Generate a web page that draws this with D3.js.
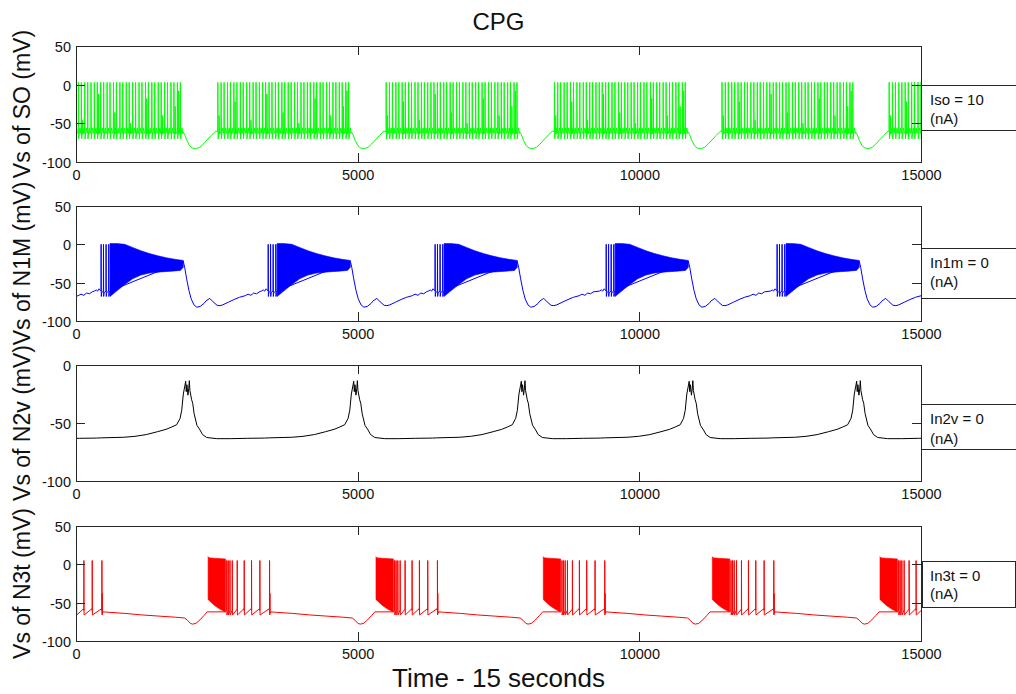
<!DOCTYPE html>
<html><head><meta charset="utf-8">
<script src="https://cdn.jsdelivr.net/npm/d3@7"></script>
<style>
html,body{margin:0;padding:0;background:#fff;overflow:hidden;}
svg{display:block;font-family:"Liberation Sans",Arial,sans-serif;}
</style></head><body>
<svg id="chart" width="1016" height="694"></svg>
<script>
// ---------------- DATA ----------------
const chartTitle = "CPG";
const xAxisLabel = "Time - 15 seconds";
const timeDomain = [0, 15000];
const timeTicks = [0, 5000, 10000, 15000];
const yLabels = ["Vs of SO (mV)", "Vs of N1M (mV)", "Vs of N2v (mV)", "Vs of N3t (mV)"];
const yDomains = [[-100, 50], [-100, 50], [-100, 0], [-100, 50]];
const yTicks = [[-100, -50, 0, 50], [-100, -50, 0, 50], [-100, -50, 0], [-100, -50, 0, 50]];
const legendLines = [["Iso = 10", "(nA)"], ["In1m = 0", "(nA)"], ["In2v = 0", "(nA)"], ["In3t = 0", "(nA)"]];
const traceColors = ["#00ff00", "#0000ff", "#000000", "#ff0000"];

// SO (green): burst onsets (ms), spike offsets inside a burst (ms), spike waveform [ms, mV]
const soBurstOnsets = [-473, 2515, 5503, 8490, 11465, 14432];
const soSpikeOffsets = [0, 58, 111, 172, 225, 284, 339, 399, 450, 512, 565, 626, 678, 737, 795, 848, 909, 961,
  1022, 1074, 1136, 1188, 1249, 1301, 1362, 1414, 1476, 1528, 1589, 1641, 1703, 1755, 1816, 1868, 1930, 1982,
  2043, 2095, 2156, 2208, 2270, 2322];
const soSpikePeak = 3;
const soSpikeShape = [[0, -61], [3, 3], [8, -70], [20, -61], [33, -56], [45, -63]];
const soPartialSpikes = [[24, -40], [308, -22], [589, -46], [872, -12], [1160, -36], [1438, -50], [1727, -18], [2006, -40], [2232, -28], [2294, -8]];
const soPartialShape = [[0, -61], [2, -40], [6, -64]];
const soInterburst = [[2372, -61], [2400, -64], [2440, -72], [2490, -79], [2540, -82], [2610, -82.5], [2670, -81],
  [2730, -77], [2800, -71.5], [2870, -66], [2930, -61.5], [2955, -60]];

// N1M (blue): dense-burst onsets (ms)
const n1mBurstOnsets = [-2362, 604, 3570, 6533, 9570, 12604];
const n1mPreBaseline = [[-280, -61], [-245, -59.5], [-220, -61], [-195, -58], [-170, -60], [-4, -61]];
const n1mPreSpikes = [-160, -118, -72, -25];
const n1mSpikeShape = [[0, -61], [2, 0], [5, -68], [12, -63]];
const n1mBurstUpper = [[0, 1], [120, 1], [260, 0], [400, -4], [550, -8.5], [700, -12], [850, -15], [1000, -17.5], [1150, -19.5], [1300, -21]];
const n1mBurstLower = [[0, -68], [100, -62], [250, -53], [400, -45], [550, -40], [700, -37.5], [900, -36], [1100, -35], [1250, -34], [1300, -30]];
const n1mPostBaseline = [[1300, -22], [1325, -30], [1360, -45], [1400, -60], [1440, -71], [1490, -79], [1540, -82], [1600, -81],
  [1670, -77], [1700, -74], [1770, -70.5], [1830, -75], [1900, -79.5], [1950, -80], [2000, -79], [2100, -75.5], [2200, -72],
  [2300, -69], [2400, -67], [2450, -65], [2500, -66.5], [2550, -63.5], [2600, -64.5], [2650, -62]];

// N2v (black): peak times (ms) and waveform around a peak [ms, mV]
const n2vPeakTimes = [-1033, 1947, 4930, 7905, 10885, 13858];
const n2vWave = [[-1500, -62.8], [-1100, -62.3], [-900, -61.5], [-700, -60], [-500, -57.5], [-350, -55.5], [-250, -53.5],
  [-160, -51.5], [-100, -46], [-70, -39], [-42, -25], [-15, -18], [0, -14], [10, -23], [22, -17], [40, -26], [55, -20],
  [65, -13.5], [75, -22], [106, -30], [125, -33], [150, -42], [200, -52], [254, -56], [300, -60], [373, -62.5],
  [550, -63.5], [800, -63.5], [1100, -63.2], [1400, -63]];

// N3t (red): burst onsets (ms)
const n3tBurstOnsets = [-631, 2345, 5325, 8295, 11296, 14272];
const n3tBurstUpper = [[0, 10], [12, 8.5], [100, 8], [200, 7.5], [310, 7]];
const n3tBurstLower = [[0, -46], [60, -50], [120, -54], [200, -58], [270, -61], [310, -62]];
const n3tSpikeOffsets = [330, 356, 387, 428, 516, 640, 770, 918, 1090];
const n3tSpikePeak = 5;
const n3tSpikeShape = [[0, -60], [1, 5], [4, -66]];
const n3tPartialSpikes = [[1096, -38]];
const n3tPartialShape = [[0, -64], [1, -38], [3, -64]];
const n3tBaseline = [[310, -62], [326, -60], [336, -66], [352, -61], [362, -66], [383, -61], [393, -66], [424, -60],
  [434, -66], [510, -59], [522, -66], [634, -58], [646, -66], [764, -58], [776, -66], [912, -58], [924, -66],
  [1084, -58], [1100, -64], [1115, -62], [1200, -62.5], [1500, -64], [1800, -66], [2100, -67.5], [2400, -69],
  [2560, -70], [2610, -73], [2660, -77], [2700, -78], [2760, -77], [2830, -72.5], [2900, -67], [2960, -62]];

// ---------------- LAYOUT ----------------
const svg = d3.select("#chart");
const plotLeft = 76, plotRight = 921;
const panelBoxes = [[46, 162], [206, 321], [365, 481], [526, 641]];
const legendBoxes = [
  {x: 921, w: 110, top: 85, bottom: 130, t1: 105, t2: 124},
  {x: 921, w: 110, top: 248, bottom: 298, t1: 268, t2: 287},
  {x: 921, w: 110, top: 404, bottom: 449, t1: 424, t2: 444},
  {x: 922, w: 93, top: 561, bottom: 607, t1: 581, t2: 599}
];
const axisColor = "#262626";
const textColor = "#111";

const x = d3.scaleLinear().domain(timeDomain).range([plotLeft, plotRight]);

function shiftPts(onset, pts) { return pts.map(p => [onset + p[0], p[1]]); }
function spikes(onset, offsets, shape, peakOf) {
  const out = [];
  offsets.forEach((s, k) => {
    const pk = peakOf(k);
    shape.forEach((p, i) => out.push([onset + s + p[0], i === 1 ? pk : p[1]]));
  });
  return out;
}
function sortT(pts) { return pts.sort((a, b) => a[0] - b[0]); }

const traces = [[], [], [], []];
const areas = [[], [], [], []];

soBurstOnsets.forEach(o => {
  traces[0].push(...spikes(o, soSpikeOffsets, soSpikeShape, () => soSpikePeak));
  traces[0].push(...spikes(o, soPartialSpikes.map(d => d[0]), soPartialShape, k => soPartialSpikes[k][1]));
  traces[0].push(...shiftPts(o, soInterburst));
});
n1mBurstOnsets.forEach(o => {
  traces[1].push(...shiftPts(o, n1mPreBaseline));
  traces[1].push(...spikes(o, n1mPreSpikes, n1mSpikeShape, () => 0));
  traces[1].push(...shiftPts(o, n1mPostBaseline));
  areas[1].push(shiftPts(o, n1mBurstUpper).concat(shiftPts(o, n1mBurstLower).reverse()));
});
n2vPeakTimes.forEach(o => { traces[2].push(...shiftPts(o, n2vWave)); });
n3tBurstOnsets.forEach(o => {
  traces[3].push(...shiftPts(o, n3tBaseline));
  traces[3].push(...spikes(o, n3tSpikeOffsets, n3tSpikeShape, () => n3tSpikePeak));
  traces[3].push(...spikes(o, n3tPartialSpikes.map(d => d[0]), n3tPartialShape, k => n3tPartialSpikes[k][1]));
  areas[3].push(shiftPts(o, n3tBurstUpper).concat(shiftPts(o, n3tBurstLower).reverse()));
});

const defs = svg.append("defs");
const fmt = d => String(d);

panelBoxes.forEach(([top, bottom], i) => {
  const y = d3.scaleLinear().domain(yDomains[i]).range([bottom, top]);
  const line = d3.line().x(d => x(d[0])).y(d => y(d[1]));
  const cid = "clip" + i;
  defs.append("clipPath").attr("id", cid).append("rect")
    .attr("x", plotLeft).attr("y", top).attr("width", plotRight - plotLeft).attr("height", bottom - top);

  const g = svg.append("g");
  const pg = g.append("g").attr("clip-path", `url(#${cid})`);
  areas[i].forEach(a => {
    pg.append("path").attr("d", line(a) + "Z").attr("fill", traceColors[i]).attr("stroke", traceColors[i]).attr("stroke-width", 0.6);
  });
  pg.append("path").datum(sortT(traces[i])).attr("d", line)
    .attr("fill", "none").attr("stroke", traceColors[i]).attr("stroke-width", 1)
    .attr("stroke-linejoin", "round");

  const axL = g.append("g").attr("transform", `translate(${plotLeft},0)`)
    .call(d3.axisLeft(y).tickValues(yTicks[i]).tickSizeInner(-9).tickSizeOuter(0).tickPadding(5).tickFormat(fmt));
  const axR = g.append("g").attr("transform", `translate(${plotRight},0)`)
    .call(d3.axisRight(y).tickValues(yTicks[i]).tickSizeInner(-9).tickSizeOuter(0).tickFormat(""));
  const axB = g.append("g").attr("transform", `translate(0,${bottom})`)
    .call(d3.axisBottom(x).tickValues(timeTicks).tickSizeInner(-9).tickSizeOuter(0).tickPadding(8).tickFormat(fmt));
  const axT = g.append("g").attr("transform", `translate(0,${top})`)
    .call(d3.axisTop(x).tickValues(timeTicks).tickSizeInner(-9).tickSizeOuter(0).tickFormat(""));
  [axL, axR, axB, axT].forEach(a => {
    a.select(".domain").remove();
    a.selectAll("line").attr("stroke", axisColor).attr("shape-rendering", "crispEdges");
    a.selectAll("text").attr("fill", textColor).style("font-size", "14.5px")
      .style("font-family", '"Liberation Sans", Arial, sans-serif');
  });
  axL.selectAll("text").attr("dy", "0.38em");
  g.append("rect").attr("x", plotLeft + 0.5).attr("y", top + 0.5)
    .attr("width", plotRight - plotLeft).attr("height", bottom - top)
    .attr("fill", "none").attr("stroke", axisColor).attr("shape-rendering", "crispEdges");

  g.append("text").attr("transform", `translate(30,${(top + bottom) / 2}) rotate(-90)`)
    .attr("text-anchor", "middle").attr("fill", textColor).style("font-size", "23px").text(yLabels[i]);

  const lb = legendBoxes[i];
  g.append("rect").attr("x", lb.x + 0.5).attr("y", lb.top + 0.5).attr("width", lb.w).attr("height", lb.bottom - lb.top)
    .attr("fill", "#fff").attr("stroke", axisColor).attr("shape-rendering", "crispEdges");
  g.append("text").attr("x", 930).attr("y", lb.t1).attr("fill", textColor).style("font-size", "15px").text(legendLines[i][0]);
  g.append("text").attr("x", 930).attr("y", lb.t2).attr("fill", textColor).style("font-size", "15px").text(legendLines[i][1]);
});

svg.append("text").attr("x", (plotLeft + plotRight) / 2).attr("y", 30).attr("text-anchor", "middle")
  .attr("fill", textColor).style("font-size", "24px").text(chartTitle);
svg.append("text").attr("x", (plotLeft + plotRight) / 2).attr("y", 687).attr("text-anchor", "middle")
  .attr("fill", textColor).style("font-size", "26px").text(xAxisLabel);
</script>
</body></html>
